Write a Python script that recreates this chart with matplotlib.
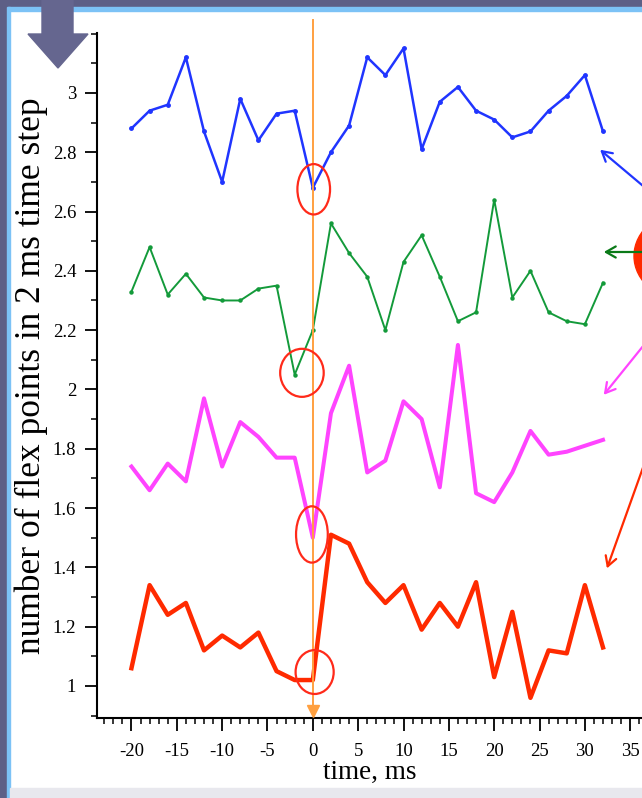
import numpy as np
import matplotlib
matplotlib.use("Agg")
import matplotlib.pyplot as plt
from matplotlib.patches import Ellipse, Rectangle, Polygon

plt.rcParams['font.family'] = ['Liberation Serif', 'DejaVu Serif']
plt.rcParams['axes.unicode_minus'] = False

# time axis, ms (one point every 2 ms)
time_ms = list(range(-20, 33, 2))

# flex points per 2 ms step
blue = [2.88, 2.94, 2.96, 3.12, 2.87, 2.70, 2.98, 2.84, 2.93, 2.94, 2.68, 2.80, 2.89,
        3.12, 3.06, 3.15, 2.81, 2.97, 3.02, 2.94, 2.91, 2.85, 2.87, 2.94, 2.99, 3.06, 2.87]
green = [2.33, 2.48, 2.32, 2.39, 2.31, 2.30, 2.30, 2.34, 2.35, 2.05, 2.20, 2.56, 2.46,
         2.38, 2.20, 2.43, 2.52, 2.38, 2.23, 2.26, 2.64, 2.31, 2.40, 2.26, 2.23, 2.22, 2.36]
magenta = [1.74, 1.66, 1.75, 1.69, 1.97, 1.74, 1.89, 1.84, 1.77, 1.77, 1.50, 1.92, 2.08,
           1.72, 1.76, 1.96, 1.90, 1.67, 2.15, 1.65, 1.62, 1.72, 1.86, 1.78, 1.79, 1.81, 1.83]
red = [1.06, 1.34, 1.24, 1.28, 1.12, 1.17, 1.13, 1.18, 1.05, 1.02, 1.02, 1.51, 1.48,
       1.35, 1.28, 1.34, 1.19, 1.28, 1.20, 1.35, 1.03, 1.25, 0.96, 1.12, 1.11, 1.34, 1.13]

# circled minima (time, value)
circles = [(0.1, 2.675), (-1.2, 2.056), (-0.1, 1.511), (0.2, 1.047)]
circle_sizes = [(3.6, 0.17), (4.8, 0.162), (3.5, 0.19), (4.2, 0.148)]

W, H = 642, 798
fig = plt.figure(figsize=(W / 100, H / 100), dpi=100)
fig.patch.set_facecolor('white')

# slide frame
purple = '#5d5f86'
fig.patches.append(Rectangle((0, 1 - 7 / H), 1, 7 / H, transform=fig.transFigure, color=purple, zorder=0))
fig.patches.append(Rectangle((0, 1 - 11 / H), 1, 4 / H, transform=fig.transFigure, color='#7cc2f6', zorder=0))
fig.patches.append(Rectangle((0, 0), 7 / W, 1, transform=fig.transFigure, color=purple, zorder=0))
fig.patches.append(Rectangle((7 / W, 0), 3 / W, 1 - 7 / H, transform=fig.transFigure, color='#7cc2f6', zorder=0))
fig.patches.append(Rectangle((10 / W, 0), 1, 10 / H, transform=fig.transFigure, color='#e8e8ee', zorder=0))

ax = fig.add_axes([97 / W, (H - 718) / H, (W - 97) / W, (718 - 33) / H])
ax.set_facecolor('none')
ax.plot(time_ms, blue, color='#2035ff', lw=1.8, marker='o', ms=2.5)
ax.plot(time_ms, green, color='#139a3a', lw=1.4, marker='o', ms=2.2)
ax.plot(time_ms, magenta, color='#ff44ff', lw=2.9)
ax.plot(time_ms, red, color='#ff2a00', lw=3.2)

for (cx, cy), (w, h) in zip(circles, circle_sizes):
    ax.add_patch(Ellipse((cx, cy), w, h, fill=False, ec='#ff2a1a', lw=1.6, zorder=4))

# event marker at t = 0
ax.plot([0, 0], [0.935, 3.245], color='#ffa040', lw=1.4, clip_on=False, zorder=3)
ax.plot(0, 0.915, marker='v', color='#ffa040', ms=8, clip_on=False, zorder=3)

ax.set_xlim(-23.8, 36.3)
ax.set_ylim(0.892, 3.202)
ax.set_xticks(range(-20, 36, 5))
ax.set_xticks(np.arange(-23, 37, 1), minor=True)
ax.set_yticks([1, 1.2, 1.4, 1.6, 1.8, 2, 2.2, 2.4, 2.6, 2.8, 3])
ax.set_yticklabels(['1', '1.2', '1.4', '1.6', '1.8', '2', '2.2', '2.4', '2.6', '2.8', '3'])
ax.set_yticks(np.arange(0.9, 3.25, 0.1), minor=True)
ax.tick_params(which='major', direction='out', length=9, width=1.3, labelsize=13.5, pad=6)
ax.tick_params(which='minor', direction='out', length=4.5, width=1.1)
ax.tick_params(axis='x', pad=9)
for s in ['top', 'right']:
    ax.spines[s].set_visible(False)
ax.spines['left'].set_linewidth(1.5)
ax.spines['bottom'].set_linewidth(1.5)
ax.set_xlabel('time, ms', fontsize=19.5, labelpad=0)
ax.set_ylabel('number of flex points in 2 ms time step', fontsize=25.5, labelpad=3)

# overlay in pixel units for slide decorations
ov = fig.add_axes([0, 0, 1, 1], zorder=5)
ov.set_xlim(0, W)
ov.set_ylim(H, 0)
ov.axis('off')
ov.patch.set_alpha(0)
ov.add_patch(Polygon([(42, 0), (73, 0), (73, 34), (88, 34), (58, 68), (28, 34), (42, 34)],
                     closed=True, color='#65668f'))
ov.add_patch(Ellipse((692, 256), 116, 94, color='#ff2a00'))
arrows = [((655, 196), (598, 148), '#2035ff'),
          ((652, 252), (601, 252), '#0a7a18'),
          ((652, 335), (602, 397), '#ff44ff'),
          ((650, 448), (606, 571), '#ff2a00')]
for start, tip, col in arrows:
    ov.annotate('', xy=tip, xytext=start,
                arrowprops=dict(arrowstyle='->,head_length=0.7,head_width=0.4', color=col, lw=1.6))

fig.savefig('out.png', dpi=100)
